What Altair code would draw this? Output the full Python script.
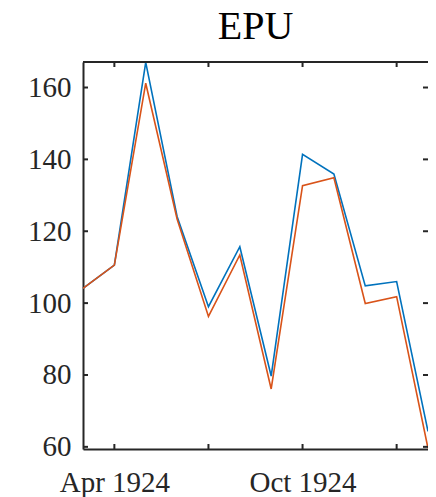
import altair as alt
import pandas as pd

# ---- data ----
months = ["Mar 1924", "Apr 1924", "May 1924", "Jun 1924", "Jul 1924", "Aug 1924",
          "Sep 1924", "Oct 1924", "Nov 1924", "Dec 1924", "Jan 1925", "Feb 1925"]
epu_blue = [104.1, 110.6, 167.0, 124.1, 99.0, 115.7, 79.7, 141.4, 135.9, 104.8, 106.0, 64.3]
epu_orange = [104.1, 110.6, 161.2, 123.4, 96.3, 113.4, 76.1, 132.7, 134.9, 99.9, 101.8, 59.6]
y_ticks = [60, 80, 100, 120, 140, 160]
x_tick_months = ["Apr 1924", "Jul 1924", "Oct 1924", "Jan 1925"]
x_label_months = ["Apr 1924", "Oct 1924"]
y_range = [59.4, 167.1]

W, H = 345, 387
FONT = "Liberation Serif"
AX = "#262626"

idx = list(range(len(months)))
df = pd.DataFrame({"m": idx, "month": months, "blue": epu_blue, "orange": epu_orange})
df_xt = pd.DataFrame({"m": [months.index(s) for s in x_tick_months]})
df_yt = pd.DataFrame({"v": y_ticks})

label_vals = [months.index(s) for s in x_label_months]
label_expr = " : ".join(
    f"datum.value == {v} ? '{s}'" for v, s in zip(label_vals, x_label_months)
) + " : ''"

xs = alt.Scale(domain=[0, len(months) - 1], nice=False, zero=False)
ys = alt.Scale(domain=y_range, nice=False, zero=False)

x_axis = alt.Axis(values=label_vals, labelExpr=label_expr, title=None, grid=False,
                  ticks=False, domain=True, domainColor=AX, domainWidth=2,
                  labelFont=FONT, labelFontSize=29, labelColor=AX,
                  labelPadding=19, labelFlush=False, labelOverlap=False)
y_axis = alt.Axis(values=y_ticks, title=None, grid=False, ticks=False,
                  domain=True, domainColor=AX, domainWidth=2,
                  labelFont=FONT, labelFontSize=29, labelColor=AX,
                  labelPadding=12, labelFlush=False, labelOverlap=False)

blue = alt.Chart(df).mark_line(color="#0072BD", strokeWidth=1.6).encode(
    x=alt.X("m:Q", scale=xs, axis=x_axis),
    y=alt.Y("blue:Q", scale=ys, axis=y_axis),
)
orange = alt.Chart(df).mark_line(color="#D95319", strokeWidth=1.6).encode(
    x=alt.X("m:Q", scale=xs),
    y=alt.Y("orange:Q", scale=ys),
)

top_line = alt.Chart(df_yt).mark_rule(color=AX, strokeWidth=2).encode(
    x=alt.value(0), x2=alt.value(W), y=alt.value(0))
xt_bottom = alt.Chart(df_xt).mark_rule(color=AX, strokeWidth=2).encode(
    x=alt.X("m:Q", scale=xs), y=alt.value(H), y2=alt.value(H - 5))
xt_top = alt.Chart(df_xt).mark_rule(color=AX, strokeWidth=2).encode(
    x=alt.X("m:Q", scale=xs), y=alt.value(0), y2=alt.value(5))
yt_left = alt.Chart(df_yt).mark_rule(color=AX, strokeWidth=2).encode(
    y=alt.Y("v:Q", scale=ys), x=alt.value(0), x2=alt.value(5))
yt_right = alt.Chart(df_yt).mark_rule(color=AX, strokeWidth=2).encode(
    y=alt.Y("v:Q", scale=ys), x=alt.value(W), x2=alt.value(W - 5))

chart = alt.layer(blue, orange, top_line, xt_bottom, xt_top, yt_left, yt_right).properties(
    width=W, height=H,
    title=alt.TitleParams("EPU", font=FONT, fontSize=40, fontWeight="normal",
                          color="black", anchor="middle", offset=12),
    autosize=alt.AutoSizeParams(type="none"),
    padding={"left": 75, "top": 54, "right": 0, "bottom": 48},
).configure_view(stroke=None).configure(background="white")

chart.save("out.html", embed_options={"renderer": "svg", "actions": False})
